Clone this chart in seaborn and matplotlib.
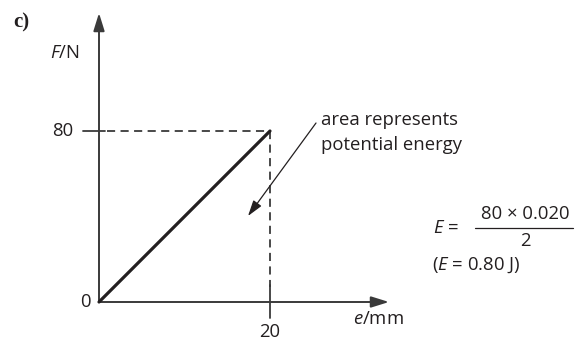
import matplotlib
matplotlib.use("Agg")
import matplotlib.pyplot as plt
import seaborn as sns
import pandas as pd

sns.set_theme(style="white")
plt.rcParams['font.family'] = ['Open Sans', 'DejaVu Sans']
plt.rcParams['mathtext.fontset'] = 'custom'
plt.rcParams['mathtext.it'] = 'Open Sans:italic'
plt.rcParams['mathtext.rm'] = 'Open Sans'

# data
extension_mm = [0, 20]
force_N = [0, 80]
x_ticks = [20]
y_ticks = [0, 80]

INK = "#231f20"
GREY = "#3a3a3a"

fig = plt.figure(figsize=(5.82, 3.40), dpi=100)
ax = fig.add_axes([0, 0, 1, 1])
# pixel mapping: x=0 -> 99px, x=20 -> 270px; y=0 -> 302px, y=80 -> 131px
sx = (270 - 99) / 20.0
sy = (302 - 131) / 80.0
ax.set_xlim(-99 / sx, (582 - 99) / sx)
ax.set_ylim((302 - 340) / sy, 302 / sy)
ax.axis("off")

def px(xp, yp):
    return ((xp - 99) / sx, (302 - yp) / sy)

df = pd.DataFrame({"e": extension_mm, "F": force_N})
sns.lineplot(data=df, x="e", y="F", ax=ax, color=INK, linewidth=2.3, zorder=5)

# axes with arrows
ax.annotate("", xy=px(389, 302), xytext=px(99, 302),
            arrowprops=dict(arrowstyle="-|>,head_length=0.9,head_width=0.28", color=GREY, lw=1.4, shrinkA=0, shrinkB=0))
ax.annotate("", xy=px(99, 13), xytext=px(99, 302),
            arrowprops=dict(arrowstyle="-|>,head_length=0.9,head_width=0.28", color=GREY, lw=1.4, shrinkA=0, shrinkB=0))

xe, ye = extension_mm[-1], force_N[-1]
# dashed guides
ax.plot([px(107, 0)[0], xe], [ye, ye], color=GREY, lw=1.3, ls=(0, (4.5, 3)))
ax.plot([xe, xe], [ye, px(0, 287)[1]], color=GREY, lw=1.3, ls=(0, (4.5, 3)))
# ticks
ax.plot([px(83, 0)[0], px(105, 0)[0]], [ye, ye], color=GREY, lw=1.3)
ax.plot([xe, xe], [px(0, 285)[1], px(0, 318)[1]], color=GREY, lw=1.3)

fs = 13.3
ax.text(px(73, 0)[0], y_ticks[1], str(y_ticks[1]), ha="right", va="center", fontsize=fs, color=INK)
ax.text(px(91, 0)[0], y_ticks[0], str(y_ticks[0]), ha="right", va="center", fontsize=fs, color=INK)
for t in x_ticks:
    ax.text(t, px(0, 332)[1], str(t), ha="center", va="center", fontsize=fs, color=INK)

ax.text(*px(50, 53), "$\\mathit{F}$/N", ha="left", va="center", fontsize=fs, color=INK)
ax.text(*px(353, 319), "$\\mathit{e}$/mm", ha="left", va="center", fontsize=fs, color=INK)
ax.text(*px(13, 22), "c)", ha="left", va="center", fontsize=15, fontweight="bold",
        family=["Liberation Serif", "DejaVu Serif"], color=INK)

# annotation
ax.annotate("", xy=px(248, 216), xytext=px(316, 123),
            arrowprops=dict(arrowstyle="-|>,head_length=0.8,head_width=0.25", color=INK, lw=0.9, shrinkA=0, shrinkB=0))
ax.text(*px(321, 120), "area represents", ha="left", va="center", fontsize=fs, color=INK)
ax.text(*px(321, 145), "potential energy", ha="left", va="center", fontsize=fs, color=INK)

# formula
ax.text(*px(433, 228), "$\\mathit{E}$ =", ha="left", va="center", fontsize=fs, color=INK)
ax.text(*px(525, 214), "80 × 0.020", ha="center", va="center", fontsize=fs, color=INK)
ax.plot([px(475, 0)[0], px(573, 0)[0]], [px(0, 228)[1]] * 2, color=INK, lw=0.9)
ax.text(*px(525, 241), "2", ha="center", va="center", fontsize=fs, color=INK)
ax.text(*px(432, 265), "($\\mathit{E}$ = 0.80 J)", ha="left", va="center", fontsize=fs, color=INK)

fig.savefig("out.png", dpi=100)
